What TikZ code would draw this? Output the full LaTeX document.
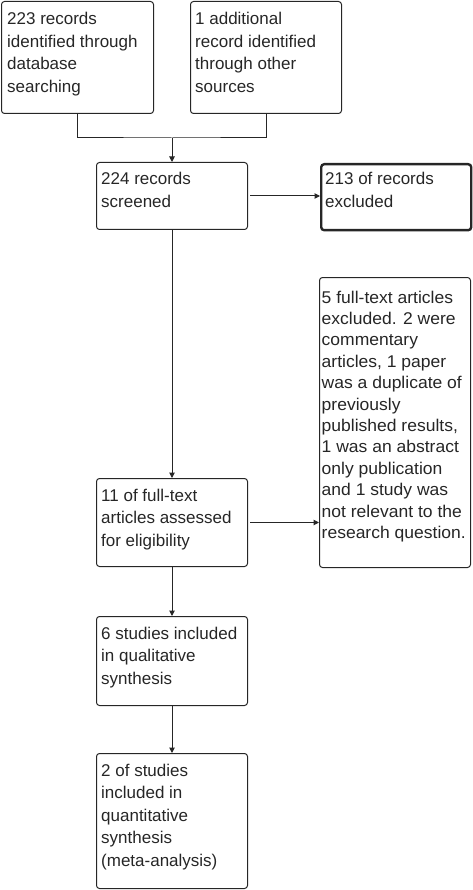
\documentclass[tikz,border=0pt]{standalone}
\usepackage{fontspec}
\setmainfont{Liberation Sans}
\newfontfamily\widefont[FakeStretch=1.03]{Liberation Sans}
\usetikzlibrary{arrows.meta}
\begin{document}
\begin{tikzpicture}[x=1pt,y=-1pt,
  box/.style={draw=black!85,line width=1pt,rounded corners=3pt,inner sep=0pt,anchor=north west},
  thickbox/.style={box,line width=2.4pt},
  lbl/.style={anchor=base west,inner sep=0pt,text=black!85},
  conn/.style={draw=black!85,line width=1pt},
  arr/.style={conn,-{Triangle[length=5.5pt,width=5.5pt]}}]
\useasboundingbox (0,0) rectangle (472,890);
\newcommand{\lines}[2][22.5]{\parbox[t]{160pt}{\fontsize{17}{#1}\selectfont\raggedright #2}}
% boxes
\node[box,minimum width=152pt,minimum height=112pt] (b1) at (1,1) {};
\node[box,minimum width=151pt,minimum height=112pt] (b2) at (190,1) {};
\node[box,minimum width=151pt,minimum height=67pt] (b3) at (96,162) {};
\node[thickbox,minimum width=150pt,minimum height=66pt] (b4) at (320,163) {};
\node[box,minimum width=151pt,minimum height=290pt] (b5) at (319,277) {};
\node[box,minimum width=151pt,minimum height=88pt] (b6) at (96,478) {};
\node[box,minimum width=151pt,minimum height=89pt] (b7) at (96,616) {};
\node[box,minimum width=151pt,minimum height=135pt] (b8) at (96,753) {};
% labels
\node[lbl] (t1) at ([shift={(6,24)}]b1.north west) {\lines{223 records\\identified through\\database\\searching}};
\node[lbl] (t2) at ([shift={(5,24)}]b2.north west) {\lines{1 additional\\record identified\\through other\\sources}};
\node[lbl] (t3) at ([shift={(5,23)}]b3.north west) {\lines{224 records\\screened}};
\node[lbl] (t4) at ([shift={(5,22)}]b4.north west) {\lines{213 of records\\excluded}};
\node[lbl] (t5) at ([shift={(2.5,26)}]b5.north west) {\widefont\lines[21.4]{5 full-text articles\\excluded. 2 were\\commentary\\articles, 1 paper\\was a duplicate of\\previously\\published results,\\1 was an abstract\\only publication\\and 1 study was\\not relevant to the\\research question.}};
\node[lbl] (t6) at ([shift={(5,23)}]b6.north west) {\lines{11 of full-text\\articles assessed\\for eligibility}};
\node[lbl] (t7) at ([shift={(5,23)}]b7.north west) {\lines{6 studies included\\in qualitative\\synthesis}};
\node[lbl] (t8) at ([shift={(5,23)}]b8.north west) {\lines{2 of studies\\included in\\quantitative\\synthesis\\(meta-analysis)}};
% connectors
\coordinate (j) at (b3.north |- 0,138);
\draw[conn] (b1.south) |- (j) -| (b2.south);
\draw[arr] (j) -- (b3.north);
\draw[arr] ([xshift=2pt]b3.east) -- (b3.east -| b4.west);
\draw[arr] (b3.south) -- (b6.north);
\draw[arr] ([xshift=2pt]b6.east) -- (b6.east -| b5.west);
\draw[arr] (b6.south) -- (b7.north);
\draw[arr] (b7.south) -- (b8.north);
\end{tikzpicture}
\end{document}
